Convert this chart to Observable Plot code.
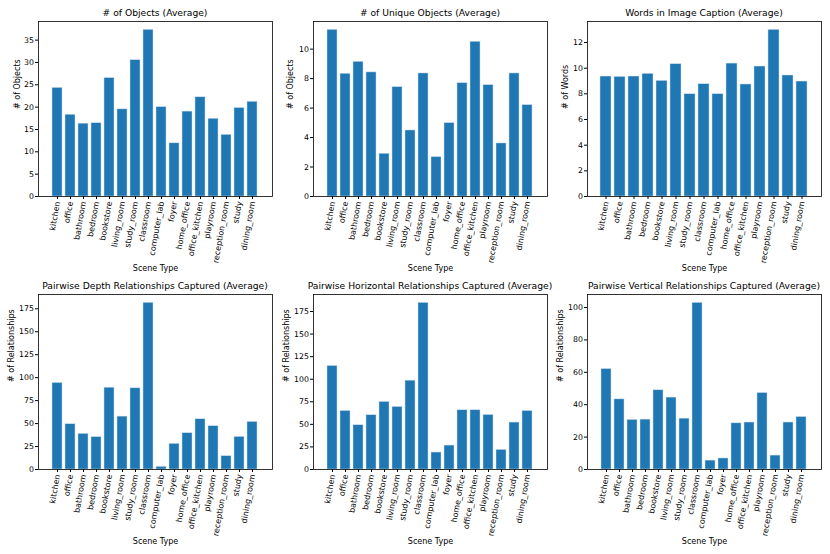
<!DOCTYPE html>
<html>
<head>
<meta charset="utf-8">
<script src="https://cdn.jsdelivr.net/npm/d3@7"></script>
<script src="https://cdn.jsdelivr.net/npm/@observablehq/plot@0.6"></script>
<style>
  html, body { margin: 0; padding: 0; background: #fff; }
  #root { position: relative; width: 830px; height: 554px; font-family: "DejaVu Sans", sans-serif; }
  #root svg { position: absolute; overflow: visible; }
  .ttl { position: absolute; font-family: "DejaVu Sans", sans-serif; font-size: 9.2px; line-height: 10px; text-align: center; white-space: nowrap; color: #000; }
</style>
</head>
<body>
<div id="root"></div>
<script>
// Categories
const scenes16 = ["kitchen","office","bathroom","bedroom","bookstore","living_room","study_room","classroom","computer_lab","foyer","home_office","office_kitchen","playroom","reception_room","study","dining_room"];
const scenes15 = ["kitchen","office","bathroom","bedroom","bookstore","living_room","study_room","classroom","computer_lab","home_office","office_kitchen","playroom","reception_room","study","dining_room"];

// Series values
const numObjects = [24.3,18.3,16.3,16.4,26.5,19.5,30.5,37.3,20.0,11.9,19.0,22.2,17.4,13.8,19.8,21.2];
const uniqueObjects = [11.31,8.33,9.14,8.42,2.9,7.42,4.48,8.35,2.67,4.98,7.69,10.5,7.56,3.6,8.35,6.2];
const captionWords = [9.35,9.32,9.35,9.56,9.01,10.31,7.97,8.75,7.97,10.36,8.73,10.13,12.99,9.43,8.96];
const depthRel = [94.2,49.3,38.8,35.3,89.1,57.6,88.4,181.5,2.9,27.9,39.5,54.7,47.1,14.5,35.5,51.8];
const horizRel = [114.6,64.8,49.0,60.1,74.8,69.3,98.4,184.6,18.8,26.5,65.6,65.6,60.4,21.7,52.0,64.8];
const vertRel = [62.0,43.3,30.6,30.8,48.9,44.4,31.4,102.9,5.5,6.8,28.5,29.0,47.2,8.6,29.0,32.4];

// Tick labels
const ticksObjects = [0,5,10,15,20,25,30,35];
const ticksUnique = [0,2,4,6,8,10];
const ticksWords = [0,2,4,6,8,10,12];
const ticksRel = [0,25,50,75,100,125,150,175];
const ticksVert = [0,20,40,60,80,100];

// Titles / labels
const titles = ["# of Objects (Average)","# of Unique Objects (Average)","Words in Image Caption (Average)","Pairwise Depth Relationships Captured (Average)","Pairwise Horizontal Relationships Captured (Average)","Pairwise Vertical Relationships Captured (Average)"];
const yLabels = ["# of Objects","# of Objects","# of Words","# of Relationships","# of Relationships","# of Relationships"];
const xLabel = "Scene Type";

const panels = [
  {cats: scenes16, vals: numObjects, ticks: ticksObjects, left: 0, top: 0, ml: 38, ylabDx: -21},
  {cats: scenes16, vals: uniqueObjects, ticks: ticksUnique, left: 275, top: 0, ml: 38, ylabDx: -23},
  {cats: scenes15, vals: captionWords, ticks: ticksWords, left: 550, top: 0, ml: 37, ylabDx: -22},
  {cats: scenes16, vals: depthRel, ticks: ticksRel, left: 0, top: 277, ml: 38, ylabDx: -27},
  {cats: scenes16, vals: horizRel, ticks: ticksRel, left: 275, top: 277, ml: 38, ylabDx: -27},
  {cats: scenes16, vals: vertRel, ticks: ticksVert, left: 550, top: 277, ml: 37, ylabDx: -27}
];

const root = document.getElementById("root");
panels.forEach((p, i) => {
  const data = p.cats.map((c, j) => ({scene: c, value: p.vals[j]}));
  const W = 280, H = 277, plotW = 234;
  const mt = p.top === 0 ? 21 : 17;
  const mb = p.top === 0 ? 81 : 85;
  const ymax = d3.max(p.vals) * 1.05;
  const chart = Plot.plot({
    width: W, height: H,
    marginLeft: p.ml, marginRight: W - p.ml - plotW, marginTop: mt, marginBottom: mb,
    style: {fontFamily: "DejaVu Sans, sans-serif", fontSize: "8px", color: "#000", background: "transparent", overflow: "visible"},
    x: {type: "band", domain: p.cats, paddingInner: 0.2, paddingOuter: (p.cats.length - 0.2) * 0.05, align: 0.5},
    y: {domain: [0, ymax]},
    marks: [
      Plot.barY(data, {x: "scene", y: "value", fill: "#1f77b4", stroke: "#c9dcec", strokeWidth: 0.5}),
      Plot.frame({stroke: "#000", strokeWidth: 0.8}),
      Plot.axisY({ticks: p.ticks, tickSize: 3, tickPadding: 1.5, label: null, fontSize: 7.8}),
      Plot.axisX({tickRotate: -80, tickSize: 3, tickPadding: 2, label: null, fontSize: 8}),
      Plot.text([yLabels[i]], {text: d => d, frameAnchor: "left", rotate: -90, dx: p.ylabDx, fontSize: 8, lineAnchor: "middle"}),
      Plot.text([xLabel], {text: d => d, frameAnchor: "bottom", dy: 72, fontSize: 8, lineAnchor: "middle"})
    ]
  });
  chart.style.left = p.left + "px";
  chart.style.top = p.top + "px";
  root.appendChild(chart);

  const t = document.createElement("div");
  t.className = "ttl";
  t.textContent = titles[i];
  const cx = p.left + p.ml + plotW / 2;
  t.style.left = (cx - 150) + "px";
  t.style.width = "300px";
  t.style.top = (p.top + mt - 8 - 5) + "px";
  root.appendChild(t);
});
</script>
</body>
</html>
